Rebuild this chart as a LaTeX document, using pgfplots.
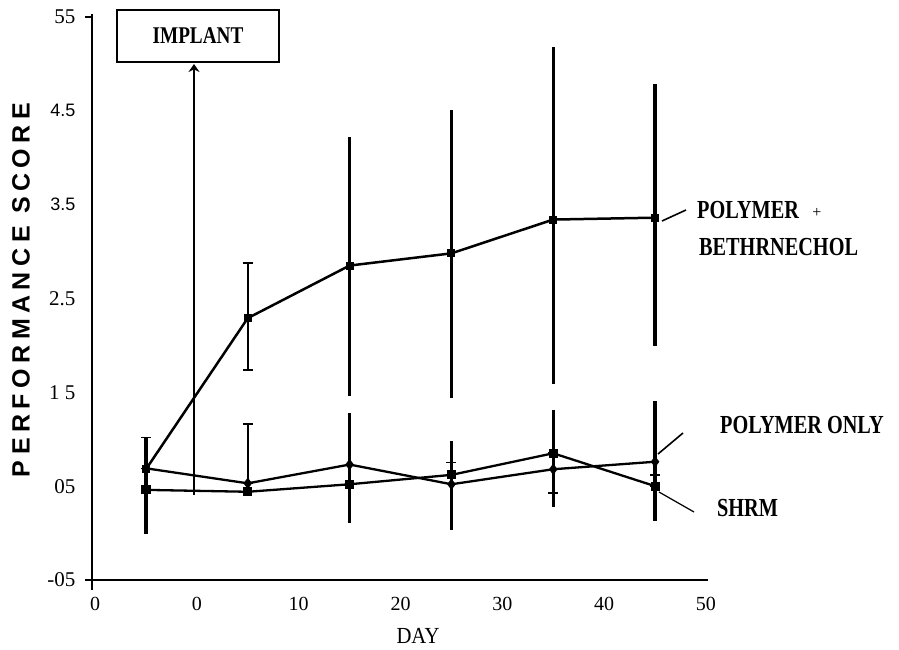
\documentclass[border=0pt]{standalone}
\usepackage{fontspec}
\setmainfont{Liberation Serif}
\setsansfont{Liberation Sans}
\usepackage{pgfplots}
\pgfplotsset{compat=1.18}
\usetikzlibrary{arrows.meta}

\begin{document}
\begin{tikzpicture}[x=1pt,y=1pt]
\begin{axis}[
  at={(0,0)}, anchor=south west,
  scale only axis, width=616pt, height=566pt,
  xmin=-10.3, xmax=50.2, ymin=-0.5, ymax=5.53,
  axis lines=left, axis line style={-},
  x axis line style={line width=1.3pt},
  y axis line style={line width=2.4pt},
  xtick={-10,0,10,20,30,40,50},
  xticklabels={0,0,10,20,30,40,50},
  ytick={-0.5,0.5,1.5,2.5,3.5,4.5,5.5},
  yticklabels={-05,05,1 5,2.5,{\sffamily\fontsize{18}{18}\selectfont 3.5},{\sffamily\fontsize{18}{18}\selectfont 4.5},55},
  x tick style={draw=none},
  y tick style={draw=none},
  major tick length=9pt,
  tick align=outside,
  yticklabel style={font=\fontsize{21}{21}\selectfont, xshift=-4pt},
  xticklabel style={font=\fontsize{20}{20}\selectfont, yshift=-5pt},
  clip=false,
]
% POLYMER + BETHANECHOL
\addplot[black, line width=2.5pt, mark=square*, mark size=2.8pt]
  coordinates {(-5,0.68) (5,2.29) (15,2.85) (25,2.98) (35,3.34) (45,3.36)};
% POLYMER ONLY
\addplot[black, line width=2.3pt, mark=diamond*, mark size=3.8pt]
  coordinates {(-5,0.69) (5,0.53) (15,0.73) (25,0.52) (35,0.68) (45,0.76)};
% SHRM
\addplot[black, line width=2.3pt, mark=square*, mark size=3.4pt]
  coordinates {(-5,0.46) (5,0.44) (15,0.52) (25,0.62) (35,0.85) (45,0.50)};

% thick error bars, no caps
\addplot[forget plot, draw=none, mark=none,
  error bars/.cd, y dir=both, y explicit, error mark=none,
  error bar style={draw=black, line width=3.4pt}]
  coordinates {
    (15,2.85) += (0,1.37) -= (0,1.39)
    (25,2.98) += (0,1.53) -= (0,1.54)
    (35,3.34) += (0,1.84) -= (0,1.75)
    (45,3.36) += (0,1.42) -= (0,1.37)
    (-5,0.69) += (0,0.33) -= (0,0.70)
    (15,0.73) += (0,0.55) -= (0,0.62)
    (25,0.52) += (0,0.46) -= (0,0.49)
    (35,0.68) += (0,0.63) -= (0,0.40)
    (45,0.76) += (0,0.65) -= (0,0.63)
  };
% thin error bars with caps
\addplot[forget plot, draw=none, mark=none,
  error bars/.cd, y dir=both, y explicit, error mark=-,
  error mark options={rotate=90, draw=black, line width=1.6pt, mark size=5pt},
  error bar style={draw=black, line width=1.6pt}]
  coordinates {
    (5,2.29) += (0,0.59) -= (0,0.55)
    (5,0.53) += (0,0.63) -= (0,0)
    (-5,0.69) += (0,0.33) -= (0,0)
    (25,0.62) += (0,0.13) -= (0,0)
    (35,0.85) += (0,0) -= (0,0.42)
    (45,0.50) += (0,0.12) -= (0,0)
  };
% y axis extension below x axis, and the two visible y ticks
\draw[line width=2.4pt] (axis cs:-10.3,-0.5) -- (axis cs:-10.3,-0.61);
\draw[line width=1.4pt] (axis cs:-10.3,-0.5) -- (axis cs:-11.0,-0.5);
\draw[line width=1.4pt] (axis cs:-10.3,5.5) -- (axis cs:-11.0,5.5);
\end{axis}

% IMPLANT box and arrow
\draw[line width=1.6pt] (25,518) rectangle (187,570);
\node[font=\fontsize{24}{24}\selectfont\bfseries, xscale=0.8] at (106,544) {IMPLANT};
\draw[line width=1.8pt, {Stealth[length=8pt,width=11pt]}-] (102,516) -- (102,85);

% series labels and leader lines
\draw[line width=1.6pt] (570,359) -- (594,370);
\draw[line width=1.6pt] (566,126) -- (591,147);
\draw[line width=1.2pt] (567,88) -- (602,68);
\node[anchor=base west, inner sep=0pt, font=\fontsize{26}{26}\selectfont\bfseries, xscale=0.78] at (605,362) {POLYMER};
\node[inner sep=0pt, font=\fontsize{16}{16}\selectfont] at (725,367) {+};
\node[anchor=base west, inner sep=0pt, font=\fontsize{26}{26}\selectfont\bfseries, xscale=0.78] at (607,325) {BETHRNECHOL};
\node[anchor=base west, inner sep=0pt, font=\fontsize{26}{26}\selectfont\bfseries, xscale=0.78] at (628,147) {POLYMER ONLY};
\node[anchor=base west, inner sep=0pt, font=\fontsize{26}{26}\selectfont\bfseries, xscale=0.78] at (625,64) {SHRM};

% axis titles
\node[anchor=base, inner sep=0pt, font=\fontsize{23}{23}\selectfont, xscale=0.9] at (326,-63) {DAY};
\node[rotate=90, inner sep=0pt, font=\sffamily\bfseries\fontsize{25}{25}\selectfont\addfontfeature{LetterSpace=22}] at (-71,290) {PERFORMANCE SCORE};

\pgfresetboundingbox
\path[use as bounding box] (-92,-69) rectangle (807,580);
\end{tikzpicture}
\end{document}
